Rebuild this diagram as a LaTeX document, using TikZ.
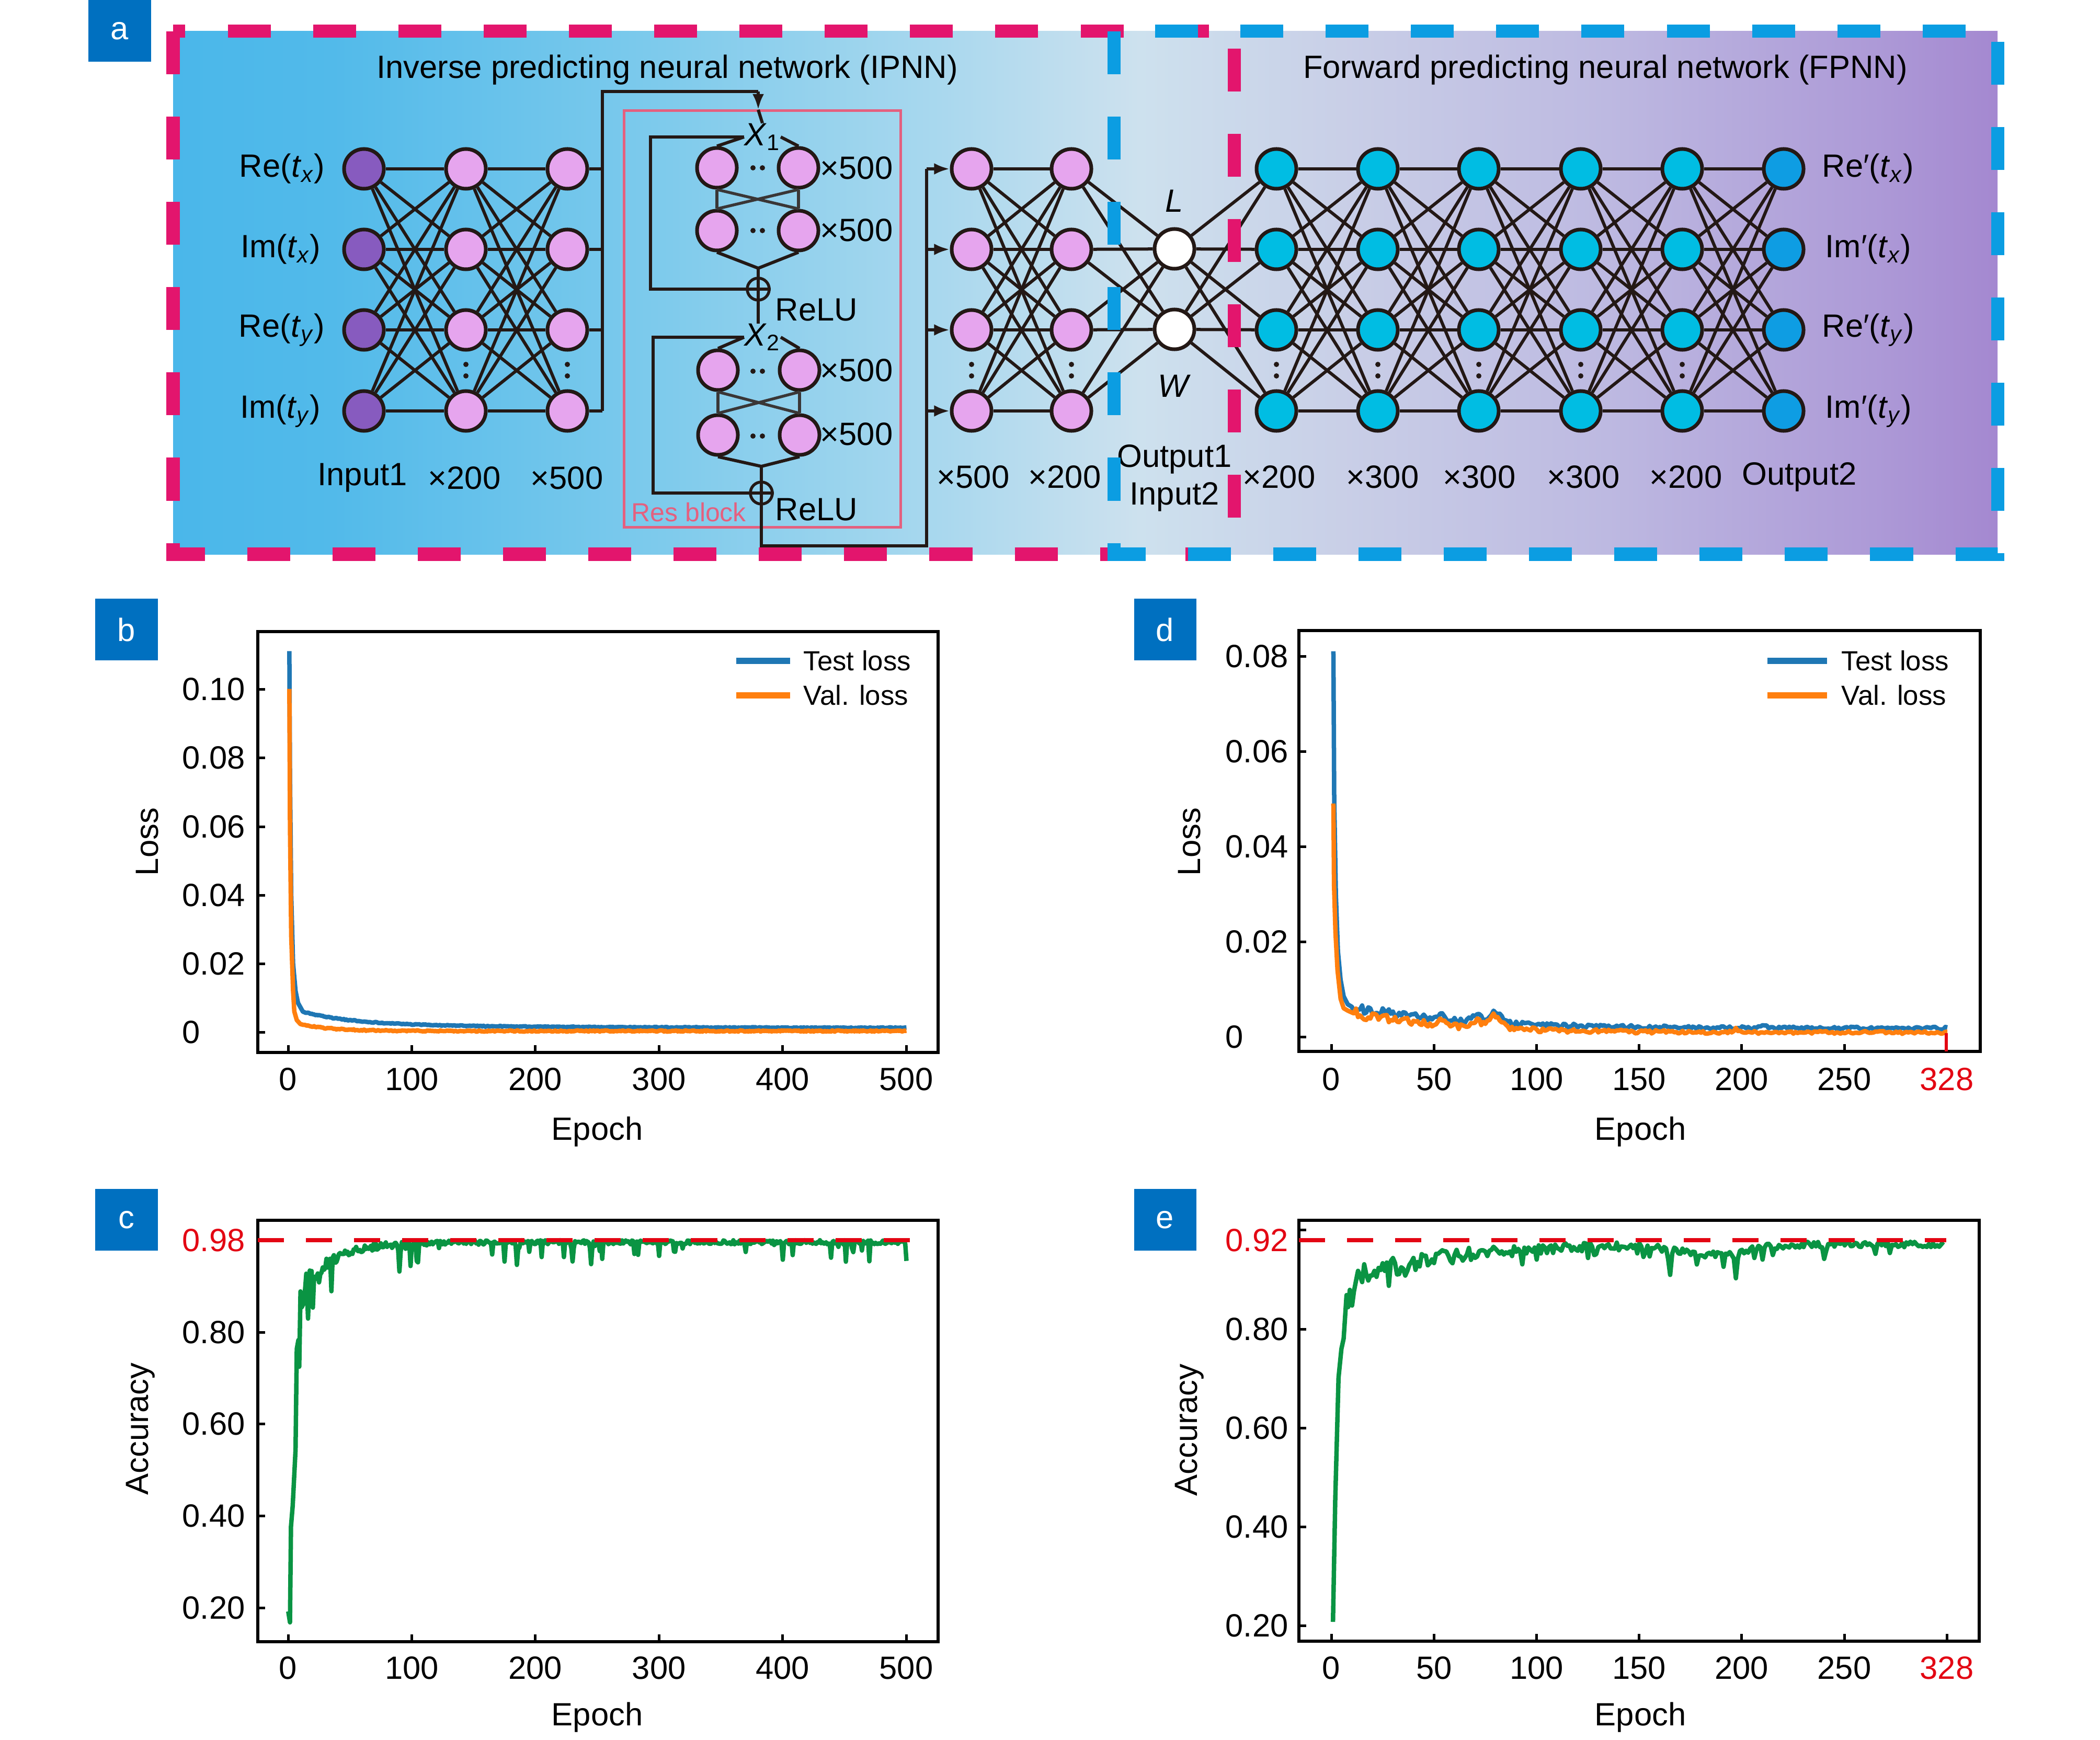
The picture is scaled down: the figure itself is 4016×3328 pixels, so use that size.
\documentclass[tikz,border=0pt]{standalone}
\usepackage{fontspec}
\setmainfont{Liberation Sans}
\usetikzlibrary{arrows.meta}
\definecolor{dk}{HTML}{231815}
\definecolor{gk}{HTML}{3A3636}
\definecolor{pinkn}{HTML}{E6A5EE}
\definecolor{purn}{HTML}{875BBF}
\definecolor{cyann}{HTML}{00BDE3}
\definecolor{outb}{HTML}{0E9DE3}
\definecolor{dpink}{HTML}{E3156D}
\definecolor{dblue}{HTML}{0B9DE2}
\definecolor{resc}{HTML}{E4607F}
\definecolor{labb}{HTML}{0070C0}
\definecolor{tlc}{HTML}{1F77B4}
\definecolor{vlc}{HTML}{FF7F0E}
\definecolor{grc}{HTML}{0A9443}
\definecolor{rdc}{HTML}{E30613}
\definecolor{bga}{HTML}{4AB7EA}
\definecolor{bgb}{HTML}{52BAEA}
\definecolor{bgc}{HTML}{7FCBEC}
\definecolor{bgd}{HTML}{A9D8EE}
\definecolor{bge}{HTML}{CDE1EE}
\definecolor{bgf}{HTML}{C9CFE7}
\definecolor{bgg}{HTML}{BDB9E1}
\definecolor{bgh}{HTML}{AD9AD7}
\definecolor{bgi}{HTML}{A488D0}
\pgfdeclarehorizontalshading{bgshade}{100bp}{color(0bp)=(bga); color(25bp)=(bga); color(29.4bp)=(bgb); color(38.6bp)=(bgc); color(46bp)=(bgd); color(51.5bp)=(bge); color(57bp)=(bgf); color(64.3bp)=(bgg); color(71.6bp)=(bgh); color(75bp)=(bgi); color(100bp)=(bgi)}
\newcommand{\myfbig}{\fontsize{17.5}{21}\selectfont}
\newcommand{\myfleg}{\fontsize{15}{18}\selectfont}
\newcommand{\myfres}{\fontsize{14.2}{17}\selectfont}
\begin{document}
\begin{tikzpicture}[x=0.01cm,y=-0.01cm,
 declare function={gb(\qa,\qb,\qc)=exp(0-pow(min(4,abs((\qa-\qb)/\qc)),2)); ex(\qa)=exp(max(-9,\qa));},
 nn/.style={circle,draw=dk,line width=0.07cm,minimum size=0.76cm,inner sep=0pt},
 rn/.style={circle,draw=dk,line width=0.07cm,minimum size=0.76cm,inner sep=0pt,fill=pinkn},
 ed/.style={draw=dk,line width=0.06cm},
 ged/.style={draw=gk,line width=0.055cm},
 tx/.style={font=\myfbig,inner sep=0pt},
 lab/.style={fill=labb,text=white,minimum width=1.19cm,minimum height=1.18cm,inner sep=0pt,font=\myfbig},
 pdash/.style={draw=dpink,line width=0.25cm,dash pattern=on 0.82cm off 0.81cm},
 bdash/.style={draw=dblue,line width=0.25cm,dash pattern=on 0.82cm off 0.81cm},
 plotframe/.style={draw=black,line width=0.06cm},
 tickmark/.style={draw=black,line width=0.05cm},
 ar/.style={-{Latex[length=0.3cm,width=0.22cm]}},
 pls/.style={circle,draw=dk,line width=0.055cm,minimum size=0.42cm,inner sep=0pt},
 crv/.style={line width=0.085cm,line join=round},
 rdash/.style={draw=rdc,line width=0.08cm,dash pattern=on 0.5cm off 0.42cm},
]
\pgfmathsetseed{7}
\useasboundingbox (0,0) rectangle (4016,3328);
% ================= panel a =================
\shade[shading=bgshade] (331,60) rectangle (3820,1060);
\node[lab] (la) at (229,59) {a};
\node[tx] (t1) at (1276,134) {Inverse predicting neural network (IPNN)};
\node[tx] (t2) at (3070,134) {Forward predicting neural network (FPNN)};

\foreach \r/\yy in {1/323,2/477,3/631,4/786}{
  \node[nn,fill=purn] (i\r) at (696,\yy) {};
  \node[nn,fill=pinkn] (c\r) at (891,\yy) {};
  \node[nn,fill=pinkn] (e\r) at (1085,\yy) {};
  \node[nn,fill=pinkn] (d\r) at (1858,\yy) {};
  \node[nn,fill=pinkn] (g\r) at (2049,\yy) {};
  \foreach \k/\xx in {1/2441,2/2635,3/2828,4/3023,5/3217}{\node[nn,fill=cyann] (f\k-\r) at (\xx,\yy) {};}
  \node[nn,fill=outb] (o\r) at (3411,\yy) {};
}
\node[nn,fill=white] (nL) at (2246,476) {};
\node[nn,fill=white] (nW) at (2246,630) {};

\foreach \a in {1,...,4}{\foreach \b in {1,...,4}{
  \draw[ed] (i\a) -- (c\b);
  \draw[ed] (c\a) -- (e\b);
  \draw[ed] (d\a) -- (g\b);
  \draw[ed] (f1-\a) -- (f2-\b);
  \draw[ed] (f2-\a) -- (f3-\b);
  \draw[ed] (f3-\a) -- (f4-\b);
  \draw[ed] (f4-\a) -- (f5-\b);
  \draw[ed] (f5-\a) -- (o\b);
}
  \draw[ed] (g\a) -- (nL);
  \draw[ed] (g\a) -- (nW);
  \draw[ed] (nL) -- (f1-\a);
  \draw[ed] (nW) -- (f1-\a);
}
\foreach \xx in {891,1085,1858,2049,2441,2635,2828,3023,3217}{
  \fill[dk] (\xx,697) circle (0.05cm);
  \fill[dk] (\xx,719) circle (0.05cm);
}

% input / output labels
\node[tx,anchor=east] (lr1) at (622,323) {Re(\textit{t}\textsubscript{\textit{x}})};
\node[tx,anchor=east] (lr2) at (614,477) {Im(\textit{t}\textsubscript{\textit{x}})};
\node[tx,anchor=east] (lr3) at (622,631) {Re(\textit{t}\textsubscript{\textit{y}})};
\node[tx,anchor=east] (lr4) at (614,786) {Im(\textit{t}\textsubscript{\textit{y}})};
\node[tx,anchor=west] (lo1) at (3484,323) {Re′(\textit{t}\textsubscript{\textit{x}})};
\node[tx,anchor=west] (lo2) at (3490,477) {Im′(\textit{t}\textsubscript{\textit{x}})};
\node[tx,anchor=west] (lo3) at (3484,631) {Re′(\textit{t}\textsubscript{\textit{y}})};
\node[tx,anchor=west] (lo4) at (3490,786) {Im′(\textit{t}\textsubscript{\textit{y}})};

% column labels
\node[tx] (cl1) at (693,914) {Input1};
\node[tx] (cl2) at (888,914) {×200};
\node[tx] (cl3) at (1084,914) {×500};
\node[tx] (cl4) at (1861,912) {×500};
\node[tx] (cl5) at (2036,912) {×200};
\node[tx] (cl6) at (2246,878) {Output1};
\node[tx] (cl7) at (2246,950) {Input2};
\node[tx] (cl8) at (2446,912) {×200};
\node[tx] (cl9) at (2644,912) {×300};
\node[tx] (cl10) at (2829,912) {×300};
\node[tx] (cl11) at (3028,912) {×300};
\node[tx] (cl12) at (3224,912) {×200};
\node[tx] (cl13) at (3441,912) {Output2};
\node[tx] (lL) at (2246,384) {\textit{L}};
\node[tx] (lW) at (2246,738) {\textit{W}};

% residual block
\draw[resc,line width=0.05cm] (1193,212) rectangle (1722,1008);
\node[tx,anchor=west,text=resc,font=\myfres] (rbl) at (1207,980) {Res block};
\node[tx] (X1) at (1458,262) {\textit{X}\textsubscript{1}};
\node[tx] (X2) at (1458,645) {\textit{X}\textsubscript{2}};
\node[rn] (ra1) at (1371,321) {};
\node[rn] (ra2) at (1527,321) {};
\node[rn] (rb1) at (1371,441) {};
\node[rn] (rb2) at (1527,441) {};
\node[rn] (rc1) at (1373,708) {};
\node[rn] (rc2) at (1529,708) {};
\node[rn] (rd1) at (1373,832) {};
\node[rn] (rd2) at (1529,832) {};
\foreach \yy in {321,441,710,834}{
  \fill[dk] (1440,\yy) circle (0.05cm);
  \fill[dk] (1458,\yy) circle (0.05cm);
}
\node[tx,anchor=west] (m500a) at (1568,321) {×500};
\node[tx,anchor=west] (m500b) at (1568,440) {×500};
\node[tx,anchor=west] (m500c) at (1568,708) {×500};
\node[tx,anchor=west] (m500d) at (1568,830) {×500};
\node[pls] (plus1) at (1450,553) {};
\node[pls] (plus2) at (1456,943) {};
\draw[ed] (plus1.north) -- (plus1.south) (plus1.west) -- (plus1.east);
\draw[ed] (plus2.north) -- (plus2.south) (plus2.west) -- (plus2.east);
\node[tx,anchor=west] (relu1) at (1482,593) {ReLU};
\node[tx,anchor=west] (relu2) at (1482,975) {ReLU};
\coordinate (m1) at (1450,513);
\coordinate (m2) at (1456,892);
\coordinate (sk1) at (1244,252);
\coordinate (sk2) at (1249,639);

\draw[ged] (ra1.south) -- (rb1.north);
\draw[ged] (ra2.south) -- (rb2.north);
\draw[ged] (ra1.south) -- (rb2.north);
\draw[ged] (ra2.south) -- (rb1.north);
\draw[ged] (rc1.south) -- (rd1.north);
\draw[ged] (rc2.south) -- (rd2.north);
\draw[ged] (rc1.south) -- (rd2.north);
\draw[ged] (rc2.south) -- (rd1.north);
\draw[ed] (X1.west) -- (ra1.north);
\draw[ed] (X1.east) -- (ra2.north);
\draw[ed] (X2.west) -- (rc1.north);
\draw[ed] (X2.east) -- (rc2.north);
\draw[ed] (rb1.south) -- (m1) -- (rb2.south);
\draw[ed] (m1) -- (plus1.north);
\draw[ed] (rd1.south) -- (m2) -- (rd2.south);
\draw[ed] (m2) -- (plus2.north);
\draw[ed] (X1.west) -- (X1.west -| sk1) |- (plus1.west);
\draw[ed] (X2.west) -- (X2.west -| sk2) |- (plus2.west);
\draw[ed] (plus1.south) -- (plus1.south |- X2.north);

% bus into res block
\coordinate (bus) at (1152,175);
\coordinate (tin) at (1450,175);
\coordinate (tip) at (1450,210);
\foreach \r in {1,...,4}{\draw[ed] (e\r.east) -- (e\r.east -| bus);}
\draw[ed] (bus |- e4.east) -- (bus) -- (tin);
\draw[ed,ar] (tin) -- (tip);
\draw[ed] (tip) -- (X1.north);

% bus out of res block
\coordinate (ob) at (1772,1044);
\draw[ed] (plus2.south) |- (ob) -- (ob |- d1.west);
\foreach \r in {1,...,4}{\draw[ed,ar] (ob |- d\r.west) -- (d\r.west);}

% dashed borders
\draw[pdash] (331,60) rectangle (2360,1060);
\draw[bdash] (2130,60) rectangle (3820,1060);

% ================= panel b =================
\node[lab] (lb) at (242,1204) {b};
\draw[plotframe] (493,1208) rectangle (1794,2013);
\foreach \v/\xx [count=\k] in {0/551,100/787.4,200/1023.8,300/1260.2,400/1496.6,500/1733}{
  \draw[tickmark] (\xx,2013) -- (\xx,1999);
  \node[tx] (bx\k) at (\xx,2064) {\v};}
\foreach \v/\yy [count=\k] in {0/1974,0.02/1843,0.04/1712,0.06/1581,0.08/1449,0.10/1318}{
  \draw[tickmark] (493,\yy) -- (507,\yy);
  \node[tx,anchor=west] (by\k) at (348,\yy) {\v};}
\node[tx] (bxl) at (1142,2165) {Epoch};
\node[tx,rotate=90] (byl) at (282,1610) {Loss};
\begin{scope}[shift={(551,1974)},x=0.02364cm,y=65.6cm]
 \draw[crv,tlc] plot coordinates {(1,0.111) (1.5,0.075) (2.5,0.04) (4,0.02) (6,0.012) (8,0.0085) (12,0.0059)}
   -- plot[domain=13:500,samples=488] (\x,{0.0012+0.0035*ex(-(\x-12)/40)+0.0012*ex(-(\x-12)/150)+0.00016*rand});
 \draw[crv,vlc] plot coordinates {(1,0.100) (1.5,0.06) (2.5,0.028) (4,0.012) (5,0.006) (7,0.0035) (10,0.0023)}
   -- plot[domain=11:500,samples=490] (\x,{0.0003+0.0020*ex(-(\x-10)/25)+0.0002*rand});
\end{scope}
\draw[tlc,line width=0.12cm] (1408,1264) -- (1511,1264);
\draw[vlc,line width=0.12cm] (1408,1330) -- (1511,1330);
\node[tx,anchor=west,font=\myfleg] (blg1) at (1536,1264) {Test loss};
\node[tx,anchor=west,font=\myfleg] (blg2) at (1536,1330) {Val. loss};

% ================= panel c =================
\node[lab] (lc) at (242,2333) {c};
\draw[plotframe] (493,2334) rectangle (1794,3140);
\foreach \v/\xx [count=\k] in {0/551,100/787.4,200/1023.8,300/1260.2,400/1496.6,500/1733}{
  \draw[tickmark] (\xx,3140) -- (\xx,3126);
  \node[tx] (cx\k) at (\xx,3190) {\v};}
\foreach \v/\yy [count=\k] in {0.20/3075,0.40/2899,0.60/2723,0.80/2548}{
  \draw[tickmark] (493,\yy) -- (507,\yy);
  \node[tx,anchor=west] (cy\k) at (348,\yy) {\v};}
\node[tx,anchor=west,text=rdc] (cy98) at (348,2372) {0.98};
\node[tx] (cxl) at (1142,3285) {Epoch};
\node[tx,rotate=90] (cyl) at (269,2733) {Accuracy};
\begin{scope}[shift={(551,0)},x=0.02364cm]
 \draw[crv,grc] plot coordinates {(0.1,3082) (1.5,3103) (2.3,2920) (3.7,2880) (6.0,2773) (7.0,2580) (8.3,2563) (9.0,2614) (10.0,2470) (11.1,2500) (12.9,2491) (14.7,2436) (16.1,2522) (17.5,2430)}
   -- plot[domain=18:500,samples=483] (\x,{2376+70*ex(-(\x-18)/25)+(4+14*ex(-\x/40))*rand+(rnd>0.9)*rnd*(38+40*ex(-\x/80))+50*gb(\x,90,0.8)+45*gb(\x,185,0.8)+40*gb(\x,230,0.8)+40*gb(\x,245,0.8)});
\end{scope}
\draw[rdash] (493,2372) -- (1740,2372);

% ================= panel d =================
\node[lab] (ld) at (2228,1204) {d};
\draw[plotframe] (2484,1206) rectangle (3787,2011);
\foreach \v/\xx [count=\k] in {0/2546,50/2742.2,100/2938.4,150/3134.6,200/3330.8,250/3527}{
  \draw[tickmark] (\xx,2011) -- (\xx,1997);
  \node[tx] (dx\k) at (\xx,2064) {\v};}
\node[tx,text=rdc] (dx7) at (3723,2064) {328};
\foreach \v/\yy [count=\k] in {0/1983,0.02/1801,0.04/1619,0.06/1437,0.08/1255}{
  \draw[tickmark] (2484,\yy) -- (2498,\yy);
  \node[tx,anchor=west] (dy\k) at (2343,\yy) {\v};}
\node[tx] (dxl) at (3137,2165) {Epoch};
\node[tx,rotate=90] (dyl) at (2275,1610) {Loss};
\begin{scope}[shift={(2546,1983)},x=0.03924cm,y=91cm]
 \draw[crv,tlc] plot coordinates {(1,0.081) (1.4,0.05) (2.2,0.03) (3.2,0.018) (4.5,0.012) (6,0.0085) (8,0.0068) (10,0.0063)}
   -- plot[domain=11:300,samples=290] (\x,{0.0018+0.0045*ex(-(\x-10)/50)+0.0025*gb(\x,80,4)+0.0015*gb(\x,71,3)+0.0015*gb(\x,54,1.5)+0.0008*gb(\x,210,2)+(0.0003+0.0009*ex(-\x/60))*rand});
 \draw[crv,vlc] plot coordinates {(1,0.049) (1.3,0.032) (2,0.022) (3,0.014) (4.5,0.008) (6,0.006) (8,0.0055) (10,0.0051)}
   -- plot[domain=11:300,samples=290] (\x,{0.0009+0.0042*ex(-(\x-10)/45)+0.0028*gb(\x,80,4)+0.0014*gb(\x,71,3)+0.0012*gb(\x,54,1.5)+0.0008*gb(\x,197,1.5)+(0.0003+0.0009*ex(-\x/60))*rand});
\end{scope}
\draw[rdc,line width=0.06cm] (3722,1976) -- (3722,2011);
\draw[tlc,line width=0.12cm] (3380,1264) -- (3494,1264);
\draw[vlc,line width=0.12cm] (3380,1330) -- (3494,1330);
\node[tx,anchor=west,font=\myfleg] (dlg1) at (3521,1264) {Test loss};
\node[tx,anchor=west,font=\myfleg] (dlg2) at (3521,1330) {Val. loss};

% ================= panel e =================
\node[lab] (le) at (2228,2333) {e};
\draw[plotframe] (2484,2334) rectangle (3785,3139);
\foreach \v/\xx [count=\k] in {0/2546,50/2742.2,100/2938.4,150/3134.6,200/3330.8,250/3527}{
  \draw[tickmark] (\xx,3139) -- (\xx,3125);
  \node[tx] (ex\k) at (\xx,3190) {\v};}
\draw[tickmark] (3723,3139) -- (3723,3125);
\node[tx,text=rdc] (ex7) at (3723,3190) {328};
\foreach \v/\yy [count=\k] in {0.20/3109,0.40/2920,0.60/2731,0.80/2542}{
  \draw[tickmark] (2484,\yy) -- (2498,\yy);
  \node[tx,anchor=west] (ey\k) at (2343,\yy) {\v};}
\draw[tickmark] (2484,2352) -- (2498,2352);
\node[tx,anchor=west,text=rdc] (ey92) at (2343,2372) {0.92};
\node[tx] (exl) at (3137,3285) {Epoch};
\node[tx,rotate=90] (eyl) at (2275,2735) {Accuracy};
\begin{scope}[shift={(2546,0)},x=0.03924cm]
 \draw[crv,grc] plot coordinates {(0.8,3102) (1.9,2869) (3.5,2635) (4.9,2580) (6,2560) (7.4,2477) (8.2,2500) (9.0,2467) (10.1,2497) (11,2470) (12.4,2442)}
   -- plot[domain=13:298,samples=286] (\x,{2380+62*ex(-(\x-13)/45)+18*gb(\x,185,22)+(5+20*ex(-\x/70))*rand+(rnd>0.9)*rnd*(25+40*ex(-\x/100))+55*gb(\x,165,0.8)+55*gb(\x,197,0.8)+25*gb(\x,152,0.8)+30*gb(\x,240,0.8)});
\end{scope}
\draw[rdash] (2484,2372) -- (3722,2372);
\end{tikzpicture}
\end{document}
